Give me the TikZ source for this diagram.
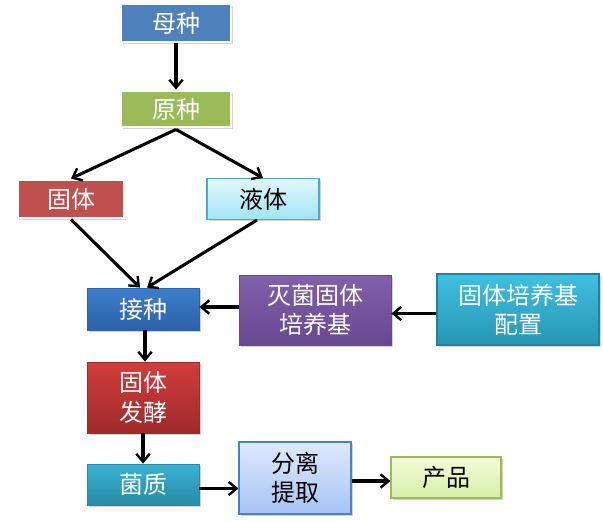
\documentclass[tikz,border=0pt]{standalone}
\usepackage{fontspec}
\setmainfont{Noto Sans CJK SC}
\usetikzlibrary{arrows.meta,shadows}
\definecolor{obblue}{HTML}{4F81BD}
\definecolor{obgreen}{HTML}{9BBB59}
\definecolor{obred}{HTML}{C0504D}
\definecolor{yetiD}{RGB}{75,172,198}
\definecolor{yetiT}{RGB}{226,247,252}
\definecolor{yetiB}{RGB}{160,228,247}
\definecolor{jzT}{RGB}{62,125,205}
\definecolor{jzB}{RGB}{44,98,168}
\definecolor{mjT}{RGB}{130,96,172}
\definecolor{mjB}{RGB}{104,72,144}
\definecolor{pzT}{RGB}{64,192,224}
\definecolor{pzB}{RGB}{38,150,180}
\definecolor{pzD}{RGB}{30,130,160}
\definecolor{fjT}{RGB}{212,60,60}
\definecolor{fjB}{RGB}{158,42,42}
\definecolor{jqT}{RGB}{58,178,210}
\definecolor{jqB}{RGB}{40,140,168}
\definecolor{flT}{RGB}{222,234,252}
\definecolor{flB}{RGB}{166,196,246}
\definecolor{cpT}{RGB}{244,252,218}
\definecolor{cpB}{RGB}{214,240,166}
\tikzset{
  box/.style={rectangle, inner sep=0pt, align=center, font=\fontsize{18}{22}\selectfont,
    drop shadow={opacity=0.35, shadow xshift=1.2pt, shadow yshift=-1.2pt}},
  framed/.style={box, draw=white, line width=2.2pt, text=white},
  flat/.style={box, text=white, line width=0.6pt},
  light/.style={box, text=black, line width=0.8pt},
  arr/.style={-{Straight Barb[length=6pt,width=10pt,line width=1.8pt]}, line width=2.3pt, black},
}
\begin{document}
\begin{tikzpicture}[x=0.75pt,y=-0.75pt]
\useasboundingbox (0,0) rectangle (603,521);
\node[framed, fill=obblue, minimum width=110*0.75pt, minimum height=38*0.75pt] (muzhong) at (176,23) {母种};
\node[framed, fill=obgreen, minimum width=110*0.75pt, minimum height=36*0.75pt] (yuanzhong) at (176,109) {原种};
\node[framed, fill=obred, minimum width=107*0.75pt, minimum height=38*0.75pt] (guti) at (71,199) {固体};
\node[light, draw=yetiD, top color=yetiT, bottom color=yetiB, minimum width=112*0.75pt, minimum height=41*0.75pt] (yeti) at (263,199) {液体};
\node[flat, top color=jzT, bottom color=jzB, draw=jzB, minimum width=112*0.75pt, minimum height=42*0.75pt] (jiezhong) at (143,309) {接种};
\node[flat, top color=mjT, bottom color=mjB, draw=mjB, minimum width=152*0.75pt, minimum height=70*0.75pt] (miejun) at (315,310) {灭菌固体\\培养基};
\node[flat, top color=pzT, bottom color=pzB, draw=pzD, line width=0.8pt, minimum width=162*0.75pt, minimum height=71*0.75pt] (peizhi) at (518,309.5) {固体培养基\\配置};
\node[flat, top color=fjT, bottom color=fjB, draw=fjB, minimum width=112*0.75pt, minimum height=71*0.75pt] (fajiao) at (143,397.5) {固体\\发酵};
\node[flat, top color=jqT, bottom color=jqB, draw=jqB, minimum width=112*0.75pt, minimum height=41*0.75pt] (junzhi) at (143,484.5) {菌质};
\node[light, draw=obblue, top color=flT, bottom color=flB, minimum width=112*0.75pt, minimum height=72*0.75pt] (fenli) at (295,478) {分离\\提取};
\node[light, draw=obgreen, top color=cpT, bottom color=cpB, minimum width=110*0.75pt, minimum height=41*0.75pt] (chanpin) at (446,477.5) {产品};
\coordinate (apex) at ([yshift=-1*0.75pt]yuanzhong.south);
\draw[arr] (muzhong) -- (yuanzhong);
\draw[arr] (apex) -- (guti.north);
\draw[arr] (apex) -- (yeti.north);
\draw[arr] (guti.south) -- ([xshift=-3*0.75pt]jiezhong.north);
\draw[arr] ([xshift=-6*0.75pt]yeti.south) -- ([xshift=4*0.75pt]jiezhong.north);
\draw[arr] ([yshift=3*0.75pt]miejun.west) -- ([yshift=3*0.75pt]miejun.west -| jiezhong.east);
\draw[arr] ([yshift=-4*0.75pt]peizhi.west) -- ([yshift=-4*0.75pt]peizhi.west -| miejun.east);
\draw[arr] ([xshift=2*0.75pt]jiezhong.south) -- ([xshift=2*0.75pt]fajiao.north);
\draw[arr] (fajiao) -- (junzhi);
\draw[arr] ([yshift=-4*0.75pt]junzhi.east) -- ([yshift=-4*0.75pt]junzhi.east -| fenli.west);
\draw[arr] ([yshift=-3*0.75pt]fenli.east) -- ([yshift=-3*0.75pt]fenli.east -| chanpin.west);
\end{tikzpicture}
\end{document}
